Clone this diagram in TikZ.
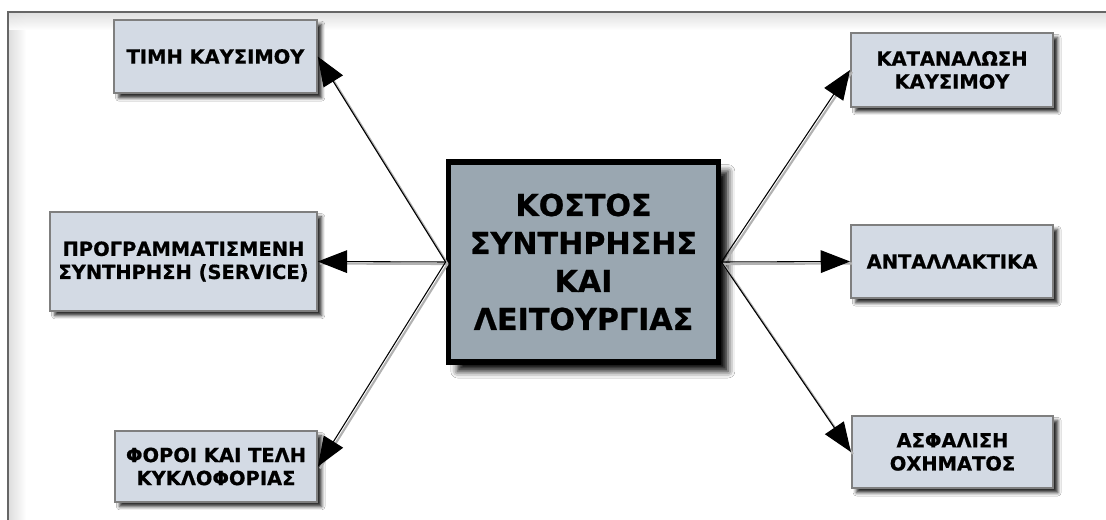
\documentclass[tikz,border=0pt]{standalone}
\usepackage{fontspec}
\setmainfont{DejaVu Sans}[BoldFont={DejaVu Sans Bold},BoldFeatures={FakeBold=0.7}]
\usetikzlibrary{arrows.meta,shadows.blur}
\definecolor{sidefill}{HTML}{D3DAE4}
\definecolor{centerfill}{HTML}{9AA7B1}
\definecolor{sideline}{HTML}{7F7F7F}
\tikzset{
  sidebox/.style={draw=sideline, line width=1.4pt, fill=sidefill, align=center,
    font=\fontsize{14.6pt}{17.3pt}\selectfont\bfseries, inner sep=0pt,
    blur shadow={shadow xshift=3.5pt, shadow yshift=-3.5pt, shadow blur radius=2.5pt, shadow opacity=85}},
  centerbox/.style={draw=black, line width=3.8pt, fill=centerfill, align=center,
    font=\fontsize{22.6pt}{28.5pt}\selectfont\bfseries, inner sep=0pt,
    blur shadow={shadow xshift=7pt, shadow yshift=-7pt, shadow blur radius=5pt, shadow opacity=95}},
  conn/.style={line width=0.8pt, -{Triangle[length=22pt,width=17pt]}},
  connshadow/.style={line width=1.6pt, draw=black!30},
}
\begin{document}
\begin{tikzpicture}[x=0.75pt,y=-0.75pt]
\useasboundingbox (0,0) rectangle (1106,520);
\fill[white] (0,0) rectangle (1106,520);
% frame with inner shadow
\shade[left color=black!13, right color=white] (9,13) rectangle (26,530);
\shade[top color=black!13, bottom color=white, opacity=0.9] (9,13) rectangle (1116,30);
\draw[black!60, line width=1.2pt] (8,530) -- (8,12) -- (1116,12);
% nodes
\node[centerbox, minimum width=203pt, minimum height=150pt] (c) at (583.5,262) {ΚΟΣΤΟΣ\\ΣΥΝΤΗΡΗΣΗΣ\\ΚΑΙ\\ΛΕΙΤΟΥΡΓΙΑΣ};
\node[sidebox, minimum width=152pt, minimum height=55pt] (fuelprice) at (215.5,56.5) {ΤΙΜΗ ΚΑΥΣΙΜΟΥ};
\node[sidebox, minimum width=200pt, minimum height=74pt] (service) at (183.5,261.5) {ΠΡΟΓΡΑΜΜΑΤΙΣΜΕΝΗ\\ΣΥΝΤΗΡΗΣΗ (SERVICE)};
\node[sidebox, minimum width=151.5pt, minimum height=53pt] (taxes) at (216,466.5) {ΦΟΡΟΙ ΚΑΙ ΤΕΛΗ\\ΚΥΚΛΟΦΟΡΙΑΣ};
\node[sidebox, minimum width=151.5pt, minimum height=55.5pt] (consumption) at (952,70) {ΚΑΤΑΝΑΛΩΣΗ\\ΚΑΥΣΙΜΟΥ};
\node[sidebox, minimum width=151.5pt, minimum height=55pt] (parts) at (952,261.5) {ΑΝΤΑΛΛΑΚΤΙΚΑ};
\node[sidebox, minimum width=151pt, minimum height=54pt] (insurance) at (952.5,452) {ΑΣΦΑΛΙΣΗ\\ΟΧΗΜΑΤΟΣ};
% connectors
\foreach \t in {fuelprice,service,taxes}{
  \draw[connshadow] ([xshift=1.5pt,yshift=-1.5pt]c.west) -- ([xshift=1.5pt,yshift=-1.5pt]\t.east);
  \draw[conn] (c.west) -- (\t.east);
}
\foreach \t in {consumption,parts,insurance}{
  \draw[connshadow] ([xshift=1.5pt,yshift=-1.5pt]c.east) -- ([xshift=1.5pt,yshift=-1.5pt]\t.west);
  \draw[conn] (c.east) -- (\t.west);
}
\end{tikzpicture}
\end{document}
